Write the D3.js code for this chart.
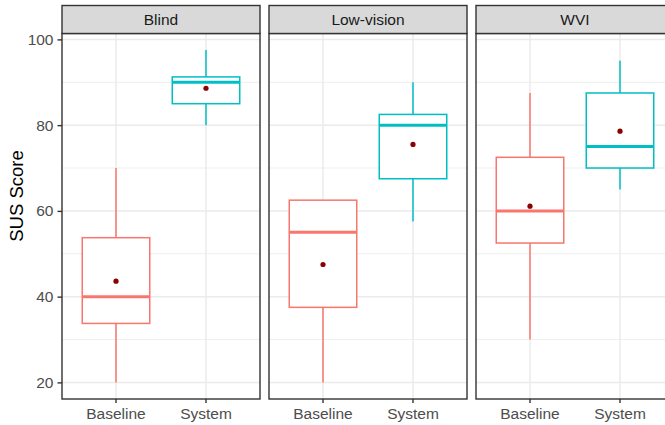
<!DOCTYPE html>
<html>
<head>
<meta charset="utf-8">
<script src="https://cdn.jsdelivr.net/npm/d3@7"></script>
<style>
  body { margin: 0; background: #fff; }
  svg { display: block; font-family: "Liberation Sans", Arial, sans-serif; }
</style>
</head>
<body>
<svg id="chart" width="665" height="425"></svg>
<script>
// data
const groups = ["Blind", "Low-vision", "WVI"];
const conditions = ["Baseline", "System"];
const whiskerLow = [[20, 80], [20, 57.5], [30, 65]];
const q1 = [[33.75, 85], [37.5, 67.5], [52.5, 70]];
const medians = [[40, 90], [55, 80], [60, 75]];
const q3 = [[53.75, 91.25], [62.5, 82.5], [72.5, 87.5]];
const whiskerHigh = [[70, 97.5], [62.5, 90], [87.5, 95]];
const means = [[43.6, 88.6], [47.5, 75.5], [61.1, 78.6]];
const yTicks = [20, 40, 60, 80, 100];
const yMinor = [30, 50, 70, 90];

const svg = d3.select("#chart");
const margin = {top: 33.5, left: 62, bottom: 399};
const panelW = 198, panelStep = 207, stripH = 28;

const colour = d3.scaleOrdinal().domain(conditions).range(["#F8766D", "#00BFC4"]);

// data range 20..97.5 with 5% expansion like ggplot
const y = d3.scaleLinear().domain([16.125, 101.375]).range([margin.bottom, margin.top]);
// discrete expansion: 0.6 units each side
const x = d3.scaleLinear().domain([0.4, 2.6]).range([0, panelW]);
const xPos = c => x(conditions.indexOf(c) + 1);
const boxW = x(1.75) - x(1);

groups.forEach((g, gi) => {
  const px = margin.left + gi * panelStep;
  const panel = svg.append("g").attr("transform", "translate(" + px + ",0)");

  // grid
  panel.selectAll(".minor").data(yMinor).enter().append("line")
    .attr("x1", 0).attr("x2", panelW)
    .attr("y1", d => y(d)).attr("y2", d => y(d))
    .attr("stroke", "#ebebeb").attr("stroke-width", 0.8);
  panel.selectAll(".major").data(yTicks).enter().append("line")
    .attr("x1", 0).attr("x2", panelW)
    .attr("y1", d => y(d)).attr("y2", d => y(d))
    .attr("stroke", "#ebebeb").attr("stroke-width", 1.5);
  panel.selectAll(".vmajor").data(conditions).enter().append("line")
    .attr("x1", d => xPos(d)).attr("x2", d => xPos(d))
    .attr("y1", margin.top).attr("y2", margin.bottom)
    .attr("stroke", "#ebebeb").attr("stroke-width", 1.5);

  // boxes
  conditions.forEach((c, ci) => {
    const cx = xPos(c);
    const col = colour(c);
    const b = panel.append("g");
    b.append("line")
      .attr("x1", cx).attr("x2", cx)
      .attr("y1", y(q3[gi][ci])).attr("y2", y(whiskerHigh[gi][ci]))
      .attr("stroke", col).attr("stroke-width", 1.5);
    b.append("line")
      .attr("x1", cx).attr("x2", cx)
      .attr("y1", y(q1[gi][ci])).attr("y2", y(whiskerLow[gi][ci]))
      .attr("stroke", col).attr("stroke-width", 1.5);
    b.append("rect")
      .attr("x", cx - boxW / 2).attr("width", boxW)
      .attr("y", y(q3[gi][ci])).attr("height", y(q1[gi][ci]) - y(q3[gi][ci]))
      .attr("fill", "#fff").attr("stroke", col).attr("stroke-width", 1.5);
    b.append("line")
      .attr("x1", cx - boxW / 2).attr("x2", cx + boxW / 2)
      .attr("y1", y(medians[gi][ci])).attr("y2", y(medians[gi][ci]))
      .attr("stroke", col).attr("stroke-width", 3);
    b.append("circle")
      .attr("cx", cx).attr("cy", y(means[gi][ci])).attr("r", 2.6)
      .attr("fill", "#8B0000");
  });

  // panel border
  panel.append("rect")
    .attr("x", 0).attr("y", margin.top)
    .attr("width", panelW).attr("height", margin.bottom - margin.top)
    .attr("fill", "none").attr("stroke", "#333333").attr("stroke-width", 1.4);

  // strip
  panel.append("rect")
    .attr("x", 0).attr("y", margin.top - stripH)
    .attr("width", panelW).attr("height", stripH)
    .attr("fill", "#d9d9d9").attr("stroke", "#333333").attr("stroke-width", 1.4);
  panel.append("text")
    .attr("x", panelW / 2).attr("y", margin.top - stripH / 2)
    .attr("dy", "0.35em")
    .attr("text-anchor", "middle")
    .attr("fill", "#1a1a1a")
    .style("font-size", "15.5px")
    .text(g);

  // x axis
  const xa = panel.append("g");
  xa.selectAll("line").data(conditions).enter().append("line")
    .attr("x1", d => xPos(d)).attr("x2", d => xPos(d))
    .attr("y1", margin.bottom).attr("y2", margin.bottom + 4)
    .attr("stroke", "#333333").attr("stroke-width", 1.4);
  xa.selectAll("text").data(conditions).enter().append("text")
    .attr("x", d => xPos(d)).attr("y", 419)
    .attr("text-anchor", "middle")
    .attr("fill", "#4d4d4d")
    .style("font-size", "15.5px")
    .text(d => d);
});

// y axis on first panel
const yAxis = svg.append("g")
  .attr("transform", "translate(" + margin.left + ",0)")
  .call(d3.axisLeft(y).tickValues(yTicks).tickSize(4.5).tickPadding(4));
yAxis.select(".domain").remove();
yAxis.selectAll(".tick line").attr("stroke", "#333333").attr("stroke-width", 1.4);
yAxis.selectAll(".tick text")
  .attr("fill", "#4d4d4d")
  .style("font-size", "15.5px")
  .style("font-family", "Liberation Sans, Arial, sans-serif");

svg.append("text")
  .attr("transform", "translate(23,196) rotate(-90)")
  .attr("text-anchor", "middle")
  .attr("fill", "#000")
  .style("font-size", "18.5px")
  .text("SUS Score");
</script>
</body>
</html>
